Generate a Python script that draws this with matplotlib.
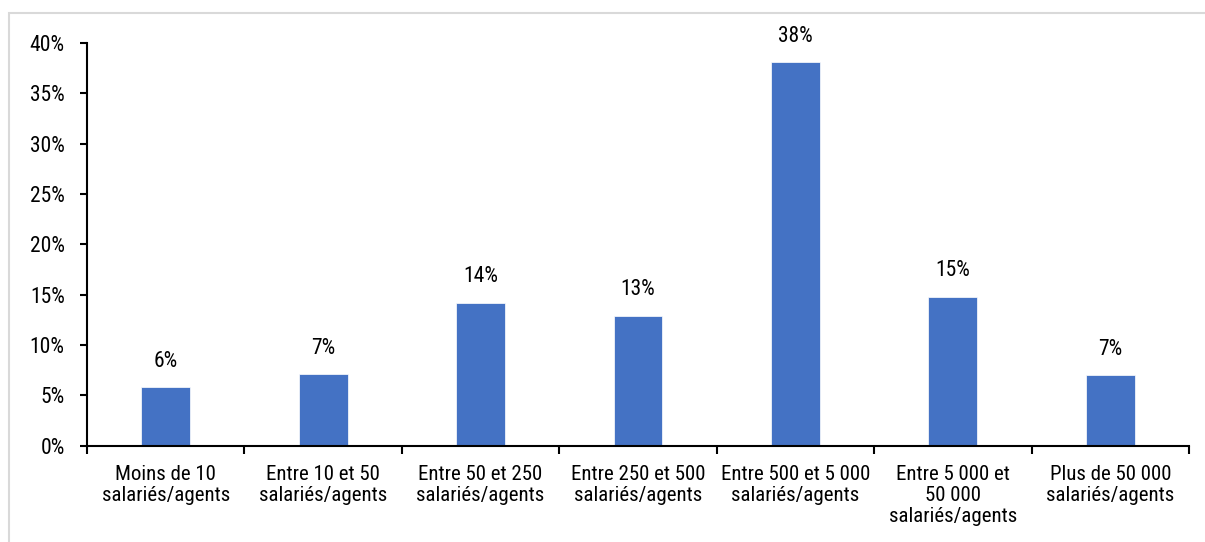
import numpy as np
import matplotlib.pyplot as plt
from matplotlib import font_manager as fm
from matplotlib.patches import Rectangle

# Data
categories = ["Moins de 10\nsalariés/agents", "Entre 10 et 50\nsalariés/agents",
              "Entre 50 et 250\nsalariés/agents", "Entre 250 et 500\nsalariés/agents",
              "Entre 500 et 5 000\nsalariés/agents", "Entre 5 000 et\n50 000\nsalariés/agents",
              "Plus de 50 000\nsalariés/agents"]
values = [5.8, 7.1, 14.2, 12.9, 38.1, 14.8, 7.0]
labels = ["6%", "7%", "14%", "13%", "38%", "15%", "7%"]
yticks = [0, 5, 10, 15, 20, 25, 30, 35, 40]

# pick a condensed font like the original (Roboto Condensed if present)
installed = set(f.name for f in fm.fontManager.ttflist)
wanted = ['Roboto Condensed', 'Barlow Semi Condensed', 'Asap Condensed', 'Roboto']
family = [f for f in wanted if f in installed][:1] + ['DejaVu Sans']
plt.rcParams['font.family'] = family

fig = plt.figure(figsize=(12.05, 5.42), dpi=100)
ax = fig.add_axes([87/1205, 1-445.5/542, (1189-87)/1205, (445.5-43)/542])

# light grey frame of the original chart
fig.patches.append(Rectangle((9/1205, -0.1), 1.2, 1.1 - 13/542,
                             transform=fig.transFigure, fill=False,
                             edgecolor="#d9d9d9", linewidth=1.5))

x = np.arange(len(categories))
bars = ax.bar(x, values, width=0.31, color="#4472C4", edgecolor="white", linewidth=0.5)

for i in range(len(values)):
    ax.annotate(labels[i], (x[i], values[i]), xytext=(0, 11), textcoords="offset points",
                ha="center", va="bottom", fontsize=15.5)

ax.set_xlim(-0.5, len(categories) - 0.5)
ax.set_ylim(0, 40)
ax.set_yticks(yticks)
ax.set_yticklabels([str(t) + "%" for t in yticks], fontsize=15.5)
ax.tick_params(axis="y", length=5, width=1.5, pad=11)

# category boundaries as major ticks, labels on minor ticks
ax.set_xticks(np.arange(-0.5, len(categories), 1))
ax.set_xticklabels([])
ax.set_xticks(x, minor=True)
ax.set_xticklabels(categories, minor=True, fontsize=15, linespacing=1.15)
ax.tick_params(axis="x", which="major", length=6, width=1.5)
ax.tick_params(axis="x", which="minor", length=0, pad=14)

for s in ["top", "right"]:
    ax.spines[s].set_visible(False)
for s in ["left", "bottom"]:
    ax.spines[s].set_linewidth(1.5)

fig.savefig("out.png", dpi=100)
